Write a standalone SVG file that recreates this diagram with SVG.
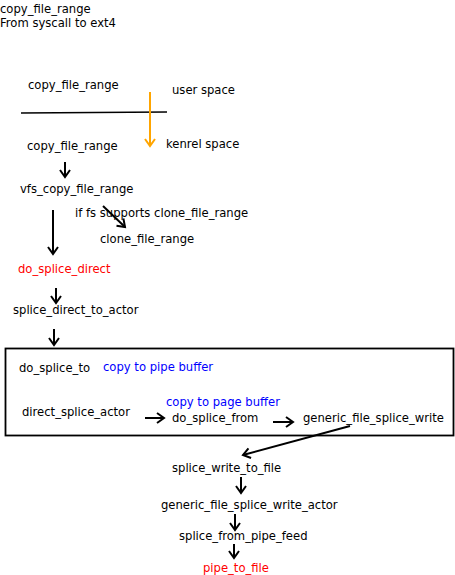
<svg xmlns="http://www.w3.org/2000/svg" width="455" height="575" viewBox="0 0 455 575">
<style>
text{font-family:"DejaVu Sans",Verdana,sans-serif;font-size:11.6px;fill:#000}
.red{fill:#ff0000}
.blue{fill:#0000ff}
.c{fill:none;stroke:#000;stroke-width:2}
.o{fill:none;stroke:#ffa500;stroke-width:2}
</style>
<defs>
<marker id="ah" markerUnits="userSpaceOnUse" markerWidth="14" markerHeight="14" refX="10" refY="6" orient="auto" viewBox="0 0 14 12">
<path d="M3,1 L10,6 L3,11" fill="none" stroke="#000" stroke-width="2"/>
</marker>
<marker id="aho" markerUnits="userSpaceOnUse" markerWidth="14" markerHeight="14" refX="10" refY="6" orient="auto" viewBox="0 0 14 12">
<path d="M3,1 L10,6 L3,11" fill="none" stroke="#ffa500" stroke-width="2"/>
</marker>
</defs>
<rect width="455" height="575" fill="#fff"/>
<g id="title"><text x="0" y="13">copy_file_range</text><text x="0" y="27">From syscall to ext4</text></g>
<g id="n-user"><text x="28" y="89">copy_file_range</text></g>
<g id="l-user"><text x="172" y="94">user space</text></g>
<g id="divider"><line x1="21" y1="113" x2="167" y2="112" stroke="#000" stroke-width="1.6"/></g>
<g id="n-kernel"><text x="27" y="150">copy_file_range</text></g>
<g id="l-kernel"><text x="166" y="148">kenrel space</text></g>
<g id="n-vfs"><text x="20" y="193">vfs_copy_file_range</text></g>
<g id="l-if"><text x="75" y="217">if fs supports clone_file_range</text></g>
<g id="n-clone"><text x="100" y="243">clone_file_range</text></g>
<g id="n-dsd"><text x="18" y="273" class="red">do_splice_direct</text></g>
<g id="n-sdta"><text x="13" y="314">splice_direct_to_actor</text></g>
<g id="box"><rect x="5.5" y="348.5" width="448" height="87" fill="none" stroke="#000" stroke-width="1.8"/></g>
<g id="n-dst"><text x="19" y="372">do_splice_to</text></g>
<g id="l-pipe"><text x="103" y="371" class="blue">copy to pipe buffer</text></g>
<g id="l-page"><text x="166" y="406" class="blue">copy to page buffer</text></g>
<g id="n-dsa"><text x="22" y="416">direct_splice_actor</text></g>
<g id="n-dsf"><text x="172" y="422">do_splice_from</text></g>
<g id="n-gfsw"><text x="303" y="422">generic_file_splice_write</text></g>
<g id="n-swtf"><text x="172" y="472">splice_write_to_file</text></g>
<g id="n-gfswa"><text x="161" y="509">generic_file_splice_write_actor</text></g>
<g id="n-sfpf"><text x="179" y="540">splice_from_pipe_feed</text></g>
<g id="n-ptf"><text x="203" y="572" class="red">pipe_to_file</text></g>
<g id="connectors">
<line class="o" x1="150" y1="92" x2="150" y2="146" marker-end="url(#aho)"/>
<line class="c" x1="65" y1="162" x2="65" y2="177" marker-end="url(#ah)"/>
<line class="c" x1="103" y1="206" x2="125" y2="227" marker-end="url(#ah)"/>
<line class="c" x1="53" y1="210" x2="53" y2="254" marker-end="url(#ah)"/>
<line class="c" x1="56" y1="288" x2="56" y2="303" marker-end="url(#ah)"/>
<line class="c" x1="54" y1="329" x2="54" y2="345" marker-end="url(#ah)"/>
<line class="c" x1="145" y1="418" x2="164" y2="418" marker-end="url(#ah)"/>
<line class="c" x1="273" y1="422" x2="293" y2="422" marker-end="url(#ah)"/>
<line class="c" x1="350" y1="426" x2="243" y2="455" marker-end="url(#ah)"/>
<line class="c" x1="241" y1="477" x2="241" y2="493" marker-end="url(#ah)"/>
<line class="c" x1="235" y1="514" x2="235" y2="530" marker-end="url(#ah)"/>
<line class="c" x1="234" y1="544" x2="234" y2="558" marker-end="url(#ah)"/>
</g>
</svg>
